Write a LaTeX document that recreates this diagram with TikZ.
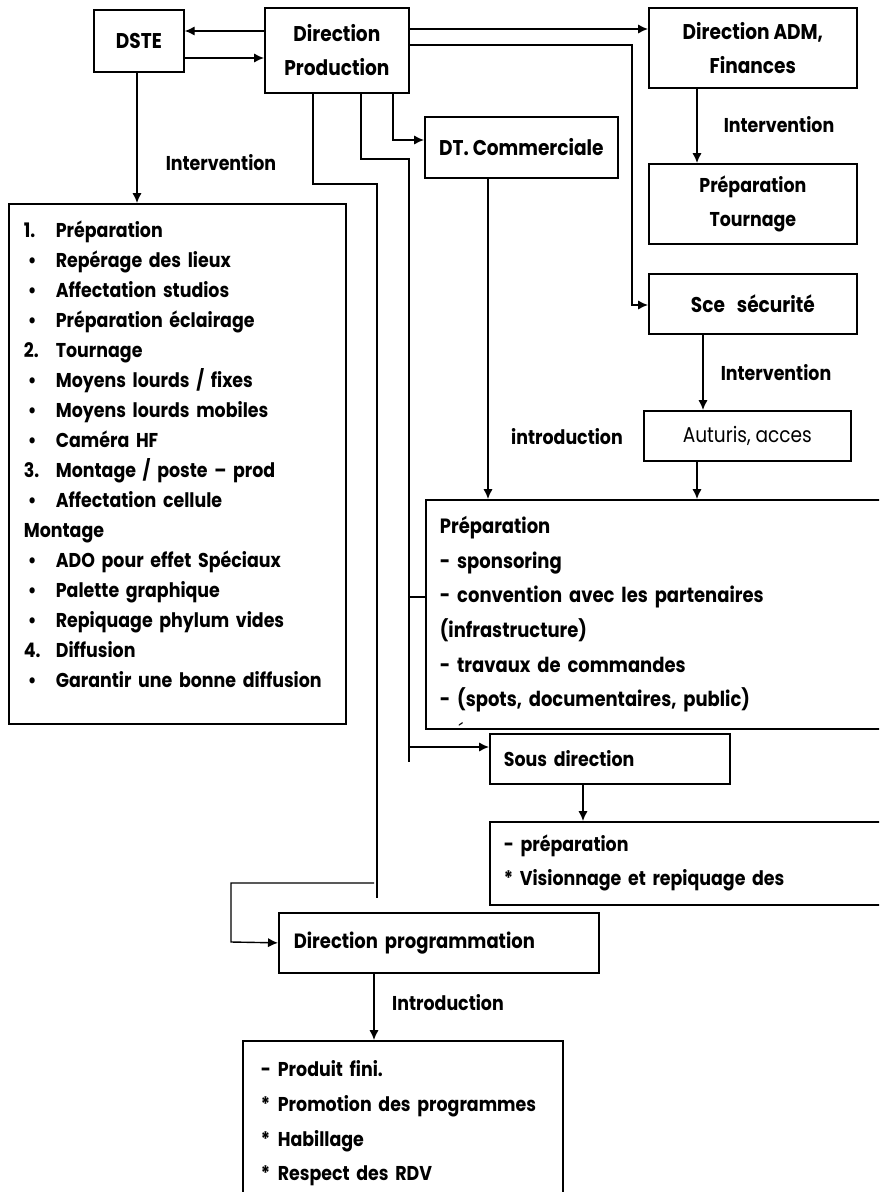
\documentclass[tikz,border=0pt]{standalone}
\usepackage{fontspec}
\setmainfont{Poppins}[FakeStretch=0.87]
\usetikzlibrary{arrows.meta}
\hyphenpenalty=10000
\exhyphenpenalty=10000

% marker column for list lines
\newcommand\ListItem[2]{\makebox[24pt][l]{#1}#2}
\newcommand\Bul{\hspace{3pt}\textbullet}
\newcommand\FinItem[2]{\makebox[12.75pt][l]{#1}#2}

\begin{document}
\begin{tikzpicture}[x=0.75pt,y=-0.75pt,
  font=\fontsize{15pt}{25.5pt}\selectfont\bfseries,
  head/.style={font=\fontsize{16pt}{25.5pt}\selectfont\bfseries},
  box/.style={draw, line width=1.3pt, rectangle, anchor=north west,
    inner sep=0pt, align=center},
  listbox/.style={box, align=left},
  arr/.style={line width=1.05pt, -{Latex[length=7.5pt,width=7pt]}},
  ln/.style={line width=1.05pt},
  lab/.style={inner sep=0pt}
]
\useasboundingbox (0,0) rectangle (879,1192);
\clip (0,0) rectangle (879,1192);

% ---- top row
\node[box, head, minimum width=67.5pt, minimum height=46.5pt] (dste) at (93,9) {DSTE};
\node[box, head, minimum width=108pt, minimum height=63.75pt] (dprod) at (264,7) {Direction\\Production};
\node[box, head, minimum width=156pt, minimum height=60pt] (dadm) at (648,7) {Direction ADM,\\Finances};

% ---- right column
\node[box, head, minimum width=144.75pt, minimum height=45.75pt] (dtcom) at (424,116) {DT. Commerciale};
\node[box, minimum width=156pt, minimum height=60pt] (preptour) at (648,163) {Préparation\\Tournage};
\node[box, head, minimum width=156pt, minimum height=45pt] (secu) at (648,273) {Sce\hspace{9pt}sécurité};
\node[box, minimum width=155.25pt, minimum height=37.5pt,
  font=\fontsize{16pt}{25.5pt}\selectfont\mdseries] (auto) at (643,410) {Auturis, acces};

% ---- left list
\node[listbox, minimum width=252.75pt, minimum height=390pt, text width=230.25pt,
  inner xsep=11.25pt, font=\fontsize{15pt}{22.5pt}\selectfont\bfseries] (liste) at (8,203) {%
\ListItem{1.}{Préparation}\\
\ListItem{\Bul}{Repérage des lieux}\\
\ListItem{\Bul}{Affectation studios}\\
\ListItem{\Bul}{Préparation éclairage}\\
\ListItem{2.}{Tournage}\\
\ListItem{\Bul}{Moyens lourds / fixes}\\
\ListItem{\Bul}{Moyens lourds mobiles}\\
\ListItem{\Bul}{Caméra HF}\\
\ListItem{3.}{Montage / poste – prod}\\
\ListItem{\Bul}{Affectation cellule}\\
Montage\\
\ListItem{\Bul}{ADO pour effet Spéciaux}\\
\ListItem{\Bul}{Palette graphique}\\
\ListItem{\Bul}{Repiquage phylum vides}\\
\ListItem{4.}{Diffusion}\\
\ListItem{\Bul}{Garantir une bonne diffusion}\rule[-14pt]{0pt}{14pt}};

% ---- commercial preparation
\node[listbox, minimum width=352.5pt, minimum height=171.75pt, text width=331.5pt,
  inner xsep=10.5pt, font=\fontsize{15.5pt}{25.9pt}\selectfont\bfseries] (prepbox) at (425,499) {%
Préparation\\
- sponsoring\\
- convention avec les partenaires\\
(infrastructure)\\
- travaux de commandes\\
\smash{\makebox[0pt][l]{\hspace*{14pt}\raisebox{-24pt}{\mdseries ´}}}- (spots, documentaires, public)};

\node[listbox, minimum width=180pt, minimum height=37.5pt, text width=159pt,
  inner xsep=10.5pt] (sousdir) at (489,733) {Sous direction};
\node[listbox, minimum width=310pt, minimum height=62.25pt, text width=289pt,
  inner xsep=10.5pt, font=\fontsize{15pt}{25.5pt}\selectfont\bfseries] (visio) at (489,821) {%
- préparation\\
{*} Visionnage et repiquage des};

% ---- programming
\node[listbox, minimum width=240pt, minimum height=45pt, text width=217.5pt,
  inner xsep=11.25pt, font=\fontsize{15.5pt}{25.5pt}\selectfont\bfseries] (dprog) at (278,912) {Direction programmation};
\node[listbox, minimum width=240pt, minimum height=123.75pt, text width=213pt,
  inner xsep=13.5pt, font=\fontsize{15pt}{26pt}\selectfont\bfseries] (final) at (242,1040) {%
\FinItem{-}{Produit fini.}\\
\FinItem{*}{Promotion des programmes}\\
\FinItem{*}{Habillage}\\
\FinItem{*}{Respect des RDV}};

% ---- labels
\node[lab] (l1) at (221,163) {Intervention};
\node[lab] (l2) at (779,125) {Intervention};
\node[lab] (l3) at (776,373) {Intervention};
\node[lab] (l4) at (567,437) {introduction};
\node[lab] (l5) at (448,1003) {Introduction};

% ---- junction points
\coordinate (jc) at (409,159);
\coordinate (jp) at (377,184);
\coordinate (js) at (632,45);
\coordinate (jg) at (374,883);

% ---- connectors between the top boxes
\draw[arr] (dprod.west |- 0,31) -- (dste.east |- 0,31);
\draw[arr] (dste.east |- 0,58) -- (dprod.west |- 0,58);
\draw[arr] (dprod.east |- 0,29) -- (dadm.west |- 0,29);
\draw[arr] (dprod.east |- js) -- (js) |- (secu.west |- 0,305);

\draw[arr] (dste.south -| 137,0) -- (liste.north -| 137,0);
\draw[arr] (dadm.south -| 697,0) -- (preptour.north -| 697,0);
\draw[arr] (secu.south -| 703,0) -- (auto.north -| 703,0);
\draw[arr] (auto.south -| 697,0) -- (prepbox.north -| 697,0);
\draw[arr] (dtcom.south -| 488,0) -- (prepbox.north -| 488,0);
\draw[arr] (sousdir.south -| 583,0) -- (visio.north -| 583,0);
\draw[arr] (dprog.south -| 374,0) -- (final.north -| 374,0);

% ---- branches leaving Direction Production from below
\draw[arr] (dprod.south -| 393,0) |- (dtcom.west |- 0,140);
\draw[ln] (dprod.south -| 361,0) |- (jc) -- (409,762);
\draw[ln] (409,597) -- (prepbox.west |- 0,597);
\draw[arr] (409,747) -- (sousdir.west |- 0,747);
\draw[ln] (dprod.south -| 313,0) |- (jp) -- (377,898);
\draw[arr] (jg) -| (231,942) -- (dprog.west);
\end{tikzpicture}
\end{document}
